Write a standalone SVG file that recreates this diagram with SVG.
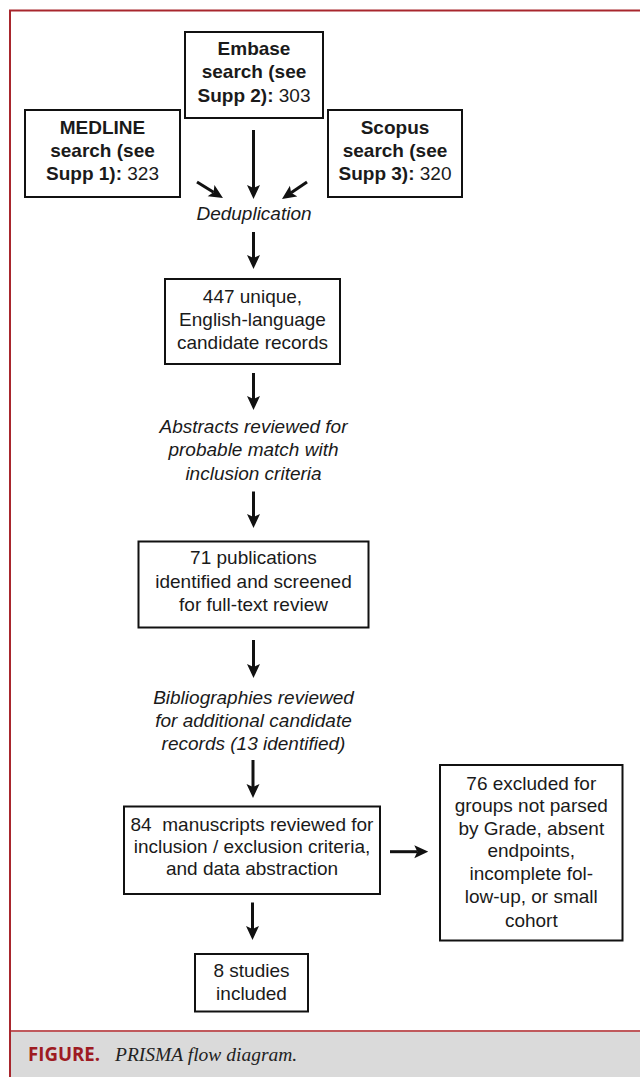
<svg xmlns="http://www.w3.org/2000/svg" width="640" height="1077" viewBox="0 0 640 1077">
<style>
.box{fill:#fff;stroke:#111;stroke-width:2}
.t{font-family:"Liberation Sans",Arial,sans-serif;font-size:19px;fill:#1a1a1a;text-anchor:middle}
.b{font-weight:bold}
.i{font-style:italic}
.c{stroke:#111;stroke-width:3;fill:none;marker-end:url(#ah)}
</style>
<defs>
<marker id="ah" markerUnits="userSpaceOnUse" viewBox="0 0 14 14" markerWidth="14" markerHeight="14" refX="3" refY="7" orient="auto">
<path d="M0,0.5 L14,7 L0,13.5 L3,7 z" fill="#111"/>
</marker>
</defs>
<rect x="0" y="0" width="640" height="1077" fill="#fff"/>
<g id="frame">
<rect x="10" y="1031" width="630" height="46" fill="#dadada"/>
<line x1="10" y1="1031" x2="640" y2="1031" stroke="#c0595c" stroke-width="2"/>
<line x1="9" y1="10.5" x2="640" y2="10.5" stroke="#a8262d" stroke-width="2"/>
<line x1="10" y1="10" x2="10" y2="1077" stroke="#a8262d" stroke-width="2"/>
<text x="28" y="1061" font-family="'Open Sans','Liberation Sans',sans-serif" font-weight="bold" font-size="19.5" fill="#9e1b22" textLength="72" lengthAdjust="spacingAndGlyphs">FIGURE.</text>
<text x="115" y="1061" font-family="'Liberation Serif','Times New Roman',serif" font-style="italic" font-size="19.5" fill="#222">PRISMA flow diagram.</text>
</g>
<g id="embase">
<rect class="box" x="185" y="32" width="138" height="86"/>
<text class="t b" x="254" y="55">Embase</text>
<text class="t b" x="254" y="78">search (see</text>
<text class="t" x="254" y="101.5"><tspan class="b">Supp 2):</tspan> 303</text>
</g>
<g id="medline">
<rect class="box" x="25" y="110" width="155" height="87"/>
<text class="t b" x="102.5" y="133.5">MEDLINE</text>
<text class="t b" x="102.5" y="156.5">search (see</text>
<text class="t" x="102.5" y="180"><tspan class="b">Supp 1):</tspan> 323</text>
</g>
<g id="scopus">
<rect class="box" x="328" y="110" width="134" height="87"/>
<text class="t b" x="395" y="133.5">Scopus</text>
<text class="t b" x="395" y="156.5">search (see</text>
<text class="t" x="395" y="180"><tspan class="b">Supp 3):</tspan> 320</text>
</g>
<g id="dedup">
<text class="t i" x="254" y="220">Deduplication</text>
</g>
<g id="unique">
<rect class="box" x="165" y="279" width="175" height="85"/>
<text class="t" x="252.5" y="302.5">447 unique,</text>
<text class="t" x="252.5" y="326">English-language</text>
<text class="t" x="252.5" y="349">candidate records</text>
</g>
<g id="abstracts">
<text class="t i" x="253.5" y="432.5">Abstracts reviewed for</text>
<text class="t i" x="253.5" y="456">probable match with</text>
<text class="t i" x="253.5" y="479.5">inclusion criteria</text>
</g>
<g id="pubs">
<rect class="box" x="138.5" y="541.5" width="230" height="86"/>
<text class="t" x="253.5" y="564">71 publications</text>
<text class="t" x="253.5" y="587.5">identified and screened</text>
<text class="t" x="253.5" y="610.5">for full-text review</text>
</g>
<g id="biblio">
<text class="t i" x="253.5" y="704">Bibliographies reviewed</text>
<text class="t i" x="253.5" y="727">for additional candidate</text>
<text class="t i" x="253.5" y="749.5">records (13 identified)</text>
</g>
<g id="manuscripts">
<rect class="box" x="124" y="806.5" width="256" height="87.5"/>
<text class="t" x="252" y="830.5" xml:space="preserve">84  manuscripts reviewed for</text>
<text class="t" x="252" y="853">inclusion / exclusion criteria,</text>
<text class="t" x="252" y="875">and data abstraction</text>
</g>
<g id="excluded">
<rect class="box" x="440" y="765" width="182.5" height="175.5"/>
<text class="t" x="531.3" y="789.5">76 excluded for</text>
<text class="t" x="531.3" y="812">groups not parsed</text>
<text class="t" x="531.3" y="834.5">by Grade, absent</text>
<text class="t" x="531.3" y="857">endpoints,</text>
<text class="t" x="531.3" y="879.5">incomplete fol-</text>
<text class="t" x="531.3" y="902.5">low-up, or small</text>
<text class="t" x="531.3" y="927">cohort</text>
</g>
<g id="included">
<rect class="box" x="195" y="954" width="113" height="57.5"/>
<text class="t" x="251.5" y="977">8 studies</text>
<text class="t" x="251.5" y="1000">included</text>
</g>
<g id="connectors">
<line class="c" x1="197" y1="182" x2="213.6" y2="192.2"/>
<line class="c" x1="253.5" y1="130" x2="253.5" y2="188"/>
<line class="c" x1="307" y1="182" x2="291.1" y2="192.8"/>
<line class="c" x1="253.5" y1="232" x2="253.5" y2="258"/>
<line class="c" x1="253.5" y1="373" x2="253.5" y2="399"/>
<line class="c" x1="253.5" y1="491.5" x2="253.5" y2="517"/>
<line class="c" x1="253.5" y1="640" x2="253.5" y2="667"/>
<line class="c" x1="253" y1="760" x2="253" y2="787"/>
<line class="c" x1="390" y1="851.7" x2="417.3" y2="851.7"/>
<line class="c" x1="252.5" y1="902.5" x2="252.5" y2="929"/>
</g>
</svg>
